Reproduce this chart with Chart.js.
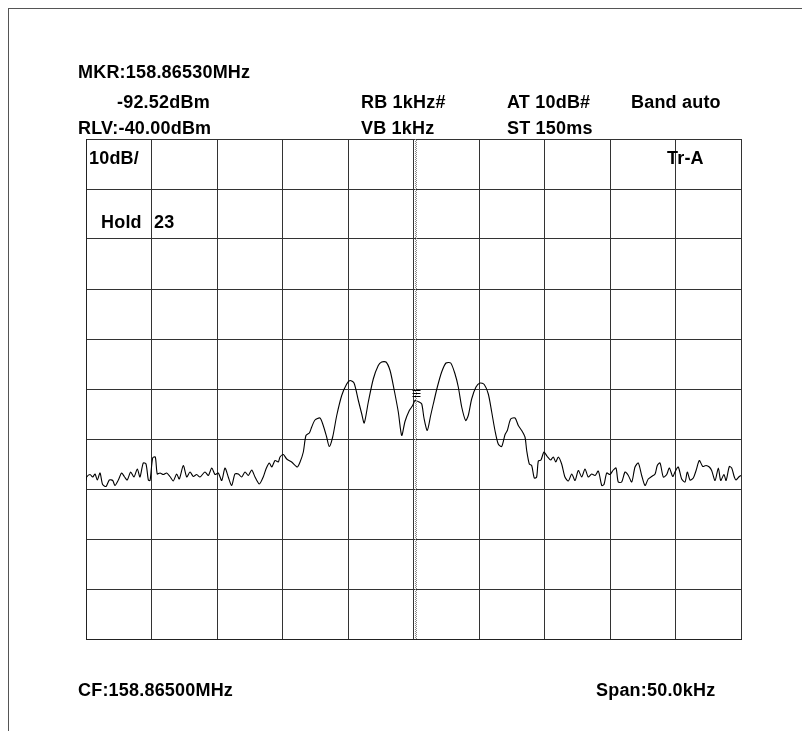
<!DOCTYPE html>
<html>
<head>
<meta charset="utf-8">
<script src="https://cdn.jsdelivr.net/npm/chart.js@4.4.1/dist/chart.umd.min.js"></script>
<style>
    html, body { margin: 0; padding: 0; background: #fff; }
    body { width: 802px; height: 731px; position: relative; overflow: hidden; }
    #frame { position: absolute; left: 8px; top: 8px; width: 900px; height: 900px;
             border-top: 1px solid #555; border-left: 1px solid #555; }
    #wrap { position: absolute; left: 0; top: 0; width: 802px; height: 731px; }
    .t { position: absolute; font-family: "Liberation Sans", Arial, sans-serif; font-weight: bold;
         font-size: 18px; letter-spacing: 0.2px; color: #000; white-space: pre; line-height: 1; }
</style>
</head>
<body>
<div id="frame"></div>
<div id="wrap"><canvas id="spec" width="802" height="731"></canvas></div>

<div class="t" style="left:78px; top:63px;">MKR:158.86530MHz</div>
<div class="t" style="left:117px; top:93px;">-92.52dBm</div>
<div class="t" style="left:361px; top:93px;">RB 1kHz#</div>
<div class="t" style="left:507px; top:93px;">AT 10dB#</div>
<div class="t" style="left:631px; top:93px;">Band auto</div>
<div class="t" style="left:78px; top:119px;">RLV:-40.00dBm</div>
<div class="t" style="left:361px; top:119px;">VB 1kHz</div>
<div class="t" style="left:507px; top:119px;">ST 150ms</div>
<div class="t" style="left:89px; top:149px;">10dB/</div>
<div class="t" style="left:667px; top:149px;">Tr-A</div>
<div class="t" style="left:101px; top:213px;">Hold</div>
<div class="t" style="left:154px; top:213px;">23</div>
<div class="t" style="left:78px; top:681px;">CF:158.86500MHz</div>
<div class="t" style="left:596px; top:681px;">Span:50.0kHz</div>

<script>
document.addEventListener('DOMContentLoaded', function() {
    if (typeof Chart === 'undefined') {
        console.error('Chart.js not loaded');
        return;
    }

    // offset from CF in kHz
    const freqKHz = [
        -25.00, -24.95, -24.69, -24.49, -24.31, -24.14, -23.93, -23.73, -23.47, -23.22,
        -22.96, -22.79, -22.53, -22.28, -22.08, -21.85, -21.59, -21.34, -21.08, -20.88,
        -20.63, -20.42, -20.24, -20.11, -19.91, -19.71, -19.56, -19.35, -19.10, -18.84,
        -18.59, -18.34, -18.08, -17.88, -17.57, -17.31, -17.06, -16.81, -16.55, -16.30,
        -15.92, -15.66, -15.40, -15.15, -14.90, -14.64, -14.39, -14.14, -13.88, -13.63,
        -13.37, -13.12, -12.86, -12.61, -12.35, -12.10, -11.77, -11.47, -11.26, -11.01,
        -10.82, -10.57, -10.32, -10.19, -9.94, -9.68, -9.30, -8.87, -8.66, -8.41,
        -8.21, -7.95, -7.77, -7.52, -7.14, -6.89, -6.63, -6.43, -6.17, -5.86,
        -5.48, -5.10, -4.85, -4.54, -4.21, -3.95, -3.76, -3.45, -3.07, -2.69,
        -2.43, -2.10, -1.79, -1.49, -1.16, -0.90, -0.65, -0.32, -0.06, 0.11,
        0.44, 0.63, 0.80, 1.05, 1.31, 1.51, 1.82, 2.15, 2.48, 2.84,
        3.17, 3.42, 3.68, 3.98, 4.18, 4.44, 4.77, 5.08, 5.40, 5.71,
        5.97, 6.22, 6.47, 6.73, 6.99, 7.16, 7.42, 7.75, 8.00, 8.26,
        8.51, 8.64, 8.84, 9.02, 9.22, 9.40, 9.53, 9.73, 9.96, 10.21,
        10.47, 10.67, 10.86, 11.05, 11.31, 11.56, 11.82, 12.08, 12.33, 12.58,
        12.84, 13.09, 13.34, 13.60, 13.86, 14.11, 14.37, 14.54, 14.75, 15.00,
        15.25, 15.46, 15.63, 15.89, 16.15, 16.40, 16.66, 16.91, 17.16, 17.42,
        17.67, 17.92, 18.18, 18.44, 18.61, 18.82, 19.07, 19.33, 19.53, 19.79,
        19.96, 20.21, 20.47, 20.73, 20.90, 21.11, 21.36, 21.57, 21.82, 22.08,
        22.33, 22.58, 22.76, 23.02, 23.27, 23.45, 23.70, 23.86, 24.11, 24.29,
        24.49, 24.62, 24.87, 25.00
    ];

    // trace level in dBm
    const levelDBm = [
        -108.3, -107.6, -107.1, -107.6, -107.0, -108.2, -106.8, -109.1, -109.5, -108.2,
        -108.3, -109.3, -108.2, -106.8, -107.5, -108.2, -106.6, -107.6, -106.0, -107.6,
        -104.8, -105.0, -108.2, -108.3, -103.8, -103.6, -107.0, -106.8, -107.1, -106.8,
        -107.5, -108.4, -107.0, -108.0, -105.3, -107.6, -106.6, -107.5, -107.1, -107.6,
        -106.6, -107.3, -105.8, -107.1, -106.8, -108.3, -105.8, -107.6, -109.3, -107.0,
        -107.0, -107.6, -106.6, -107.3, -106.2, -107.6, -109.0, -107.6, -106.0, -104.8,
        -105.6, -104.3, -104.6, -103.6, -103.1, -104.0, -104.6, -105.6, -104.6, -102.6,
        -99.3, -98.8, -97.6, -96.2, -95.8, -97.3, -99.6, -101.5, -99.6, -95.3,
        -91.3, -89.0, -88.3, -88.8, -92.3, -95.0, -96.8, -92.6, -88.0, -85.3,
        -84.6, -84.6, -86.3, -90.0, -94.6, -99.3, -96.5, -94.3, -93.3, -92.3,
        -92.6, -93.0, -95.8, -98.3, -95.3, -93.0, -89.6, -86.6, -84.8, -84.8,
        -87.0, -89.6, -93.6, -96.3, -95.3, -92.0, -89.6, -88.8, -89.1, -91.0,
        -94.6, -98.3, -101.0, -101.5, -99.1, -98.3, -96.0, -95.8, -97.3, -98.3,
        -99.6, -102.3, -105.0, -105.3, -107.8, -107.6, -104.4, -104.2, -102.6, -103.5,
        -104.2, -103.6, -104.6, -103.6, -105.0, -107.6, -108.4, -107.0, -108.3, -106.3,
        -107.6, -106.0, -107.6, -107.0, -107.3, -106.4, -109.3, -109.1, -106.8, -107.1,
        -106.2, -105.8, -108.6, -108.6, -106.6, -107.3, -108.6, -105.6, -104.8, -107.3,
        -109.3, -108.0, -107.5, -107.0, -105.3, -104.8, -107.6, -107.1, -105.8, -107.5,
        -106.6, -105.6, -108.0, -108.6, -106.6, -108.2, -107.8, -106.3, -104.3, -105.5,
        -105.3, -105.6, -106.3, -108.3, -105.8, -108.3, -107.1, -108.3, -105.5, -105.8,
        -107.6, -108.2, -107.5, -107.3
    ];

    // axes: span 50 kHz (5 kHz/div), RLV -40 dBm, 10 dB/div
    const spanKHz = [-25, 25];
    const levelRange = [-140, -40];
    const markerKHz = 0.3;      // 158.86530 MHz - CF
    const markerDBm = -92.52;

    const points = freqKHz.map((f, i) => ({ x: f, y: levelDBm[i] }));

    // marker line and marker symbol
    const markerPlugin = {
        id: 'marker',
        afterDatasetsDraw(chart) {
            const ctx = chart.ctx;
            const area = chart.chartArea;
            const mx = Math.round(chart.scales.x.getPixelForValue(markerKHz)) - 1.5;
            const my = chart.scales.y.getPixelForValue(markerDBm);
            ctx.save();
            ctx.strokeStyle = '#888';
            ctx.lineWidth = 1;
            ctx.setLineDash([1, 1]);
            ctx.beginPath();
            ctx.moveTo(mx, area.top);
            ctx.lineTo(mx, area.bottom);
            ctx.moveTo(mx + 1, area.top + 1);
            ctx.lineTo(mx + 1, area.bottom);
            ctx.stroke();
            ctx.setLineDash([]);
            ctx.strokeStyle = '#000';
            ctx.beginPath();
            for (let k = 0; k < 3; k++) {
                const yy = Math.round(my) - 11.5 + k * 3;
                ctx.moveTo(mx - 3, yy);
                ctx.lineTo(mx + 5, yy);
            }
            ctx.stroke();
            ctx.restore();
        }
    };

    const ctx = document.getElementById('spec').getContext('2d');
    new Chart(ctx, {
        type: 'scatter',
        data: {
            datasets: [{
                data: points,
                showLine: true,
                borderColor: '#000',
                borderWidth: 1.1,
                pointRadius: 0,
                tension: 0.25
            }]
        },
        options: {
            responsive: false,
            animation: false,
            events: [],
            layout: { padding: { left: 86, right: 61, top: 139, bottom: 92 } },
            plugins: { legend: { display: false }, tooltip: { enabled: false } },
            scales: {
                x: {
                    type: 'linear',
                    min: spanKHz[0],
                    max: spanKHz[1],
                    ticks: { display: false, stepSize: 5 },
                    grid: { color: '#333', lineWidth: 1, drawTicks: false, tickLength: 0 },
                    border: { display: true, color: '#222', width: 1 }
                },
                y: {
                    min: levelRange[0],
                    max: levelRange[1],
                    ticks: { display: false, stepSize: 10 },
                    grid: { color: '#333', lineWidth: 1, drawTicks: false, tickLength: 0 },
                    border: { display: true, color: '#222', width: 1 }
                }
            }
        },
        plugins: [markerPlugin]
    });
});
</script>
</body>
</html>
